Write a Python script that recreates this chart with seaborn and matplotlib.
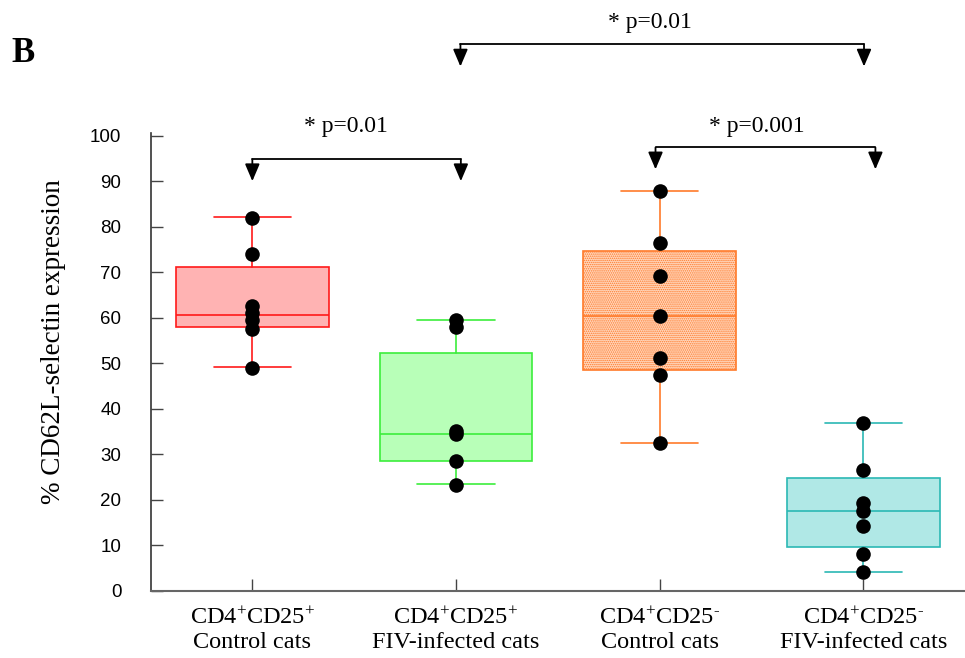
import numpy as np
import pandas as pd
import matplotlib
matplotlib.use("Agg")
import matplotlib.pyplot as plt
import seaborn as sns

# --- data ---
groups = ["CD4+CD25+ control", "CD4+CD25+ FIV", "CD4+CD25- control", "CD4+CD25- FIV"]
tick_labels = [
    r"CD4$^{+}$CD25$^{+}$" + "\nControl cats",
    r"CD4$^{+}$CD25$^{+}$" + "\nFIV-infected cats",
    r"CD4$^{+}$CD25$^{\text{-}}$" + "\nControl cats",
    r"CD4$^{+}$CD25$^{\text{-}}$" + "\nFIV-infected cats",
]
vals_pos_control = [82.0, 74.0, 62.5, 61.0, 59.5, 57.5, 49.0]
vals_pos_fiv = [59.5, 58.0, 35.0, 34.5, 28.5, 23.3]
vals_neg_control = [87.8, 76.5, 69.2, 60.4, 51.1, 47.5, 32.4]
vals_neg_fiv = [36.9, 26.5, 19.3, 17.6, 14.2, 8.0, 4.0]

# box summaries as drawn in the original (q1, median, q3, whisker low, whisker high)
q1 = [57.9, 28.4, 48.5, 9.5]
medians = [60.5, 34.5, 60.3, 17.5]
q3 = [71.2, 52.3, 74.7, 24.7]
whis_lo = [49.1, 23.4, 32.4, 4.0]
whis_hi = [82.2, 59.5, 87.8, 36.9]

p_texts = ["* p=0.01", "* p=0.01", "* p=0.001"]

edge_colors = ["#ff1a1a", "#3ced3c", "#ff7a2a", "#2bb8b4"]
face_colors = ["#ffb3b3", "#b8ffb8", "#ffd6bc", "#b0e8e6"]

all_vals = [vals_pos_control, vals_pos_fiv, vals_neg_control, vals_neg_fiv]
df = pd.DataFrame({
    "group": np.repeat(groups, [len(v) for v in all_vals]),
    "value": np.concatenate(all_vals),
})

sns.set_style("white")
plt.rcParams["font.family"] = ["Liberation Serif", "DejaVu Serif"]
plt.rcParams["mathtext.fontset"] = "custom"
plt.rcParams["mathtext.rm"] = "Liberation Serif"
plt.rcParams["mathtext.it"] = "Liberation Serif:italic"
plt.rcParams["mathtext.bf"] = "Liberation Serif:bold"
plt.rcParams["hatch.linewidth"] = 0.7
plt.rcParams["text.color"] = "black"
plt.rcParams["axes.labelcolor"] = "black"
plt.rcParams["xtick.color"] = "black"
plt.rcParams["ytick.color"] = "black"

fig = plt.figure(figsize=(9.65, 6.58), dpi=100)
ax = fig.add_axes([0.156, 0.1023, 0.844, 0.695])

# boxes
stats = []
for i in range(4):
    stats.append(dict(q1=q1[i], med=medians[i], q3=q3[i],
                      whislo=whis_lo[i], whishi=whis_hi[i], fliers=[]))
bp = ax.bxp(stats, positions=range(4), widths=0.75, capwidths=0.38,
            patch_artist=True, showfliers=False, manage_ticks=False)
for i in range(4):
    box = bp["boxes"][i]
    box.set_facecolor(face_colors[i])
    box.set_edgecolor(edge_colors[i])
    box.set_linewidth(1.2)
    if i == 2:
        box.set_hatch("........")
    bp["medians"][i].set_color(edge_colors[i])
    bp["medians"][i].set_linewidth(1.2)
    for ln in bp["whiskers"][2 * i:2 * i + 2] + bp["caps"][2 * i:2 * i + 2]:
        ln.set_color(edge_colors[i])
        ln.set_linewidth(1.2)

# points
sns.stripplot(data=df, x="group", y="value", order=groups, jitter=False,
              color="black", size=10.5, linewidth=0, zorder=5, ax=ax)

ax.set_xlim(-0.5, 3.5)
ax.set_ylim(0, 100.5)
ax.set_yticks(range(0, 101, 10))
ax.set_xticks(range(4))
ax.set_xticklabels(tick_labels, fontsize=17.5, linespacing=1.2)
for lab in ax.get_yticklabels():
    lab.set_family(["Liberation Sans", "DejaVu Sans"])
    lab.set_fontsize(13.5)
ax.tick_params(axis="y", left=True, direction="in", length=8.5, width=1,
               color="#444444", labelcolor="black", pad=21)
ax.tick_params(axis="x", bottom=True, direction="in", length=8.5, width=1,
               color="#444444", labelcolor="black", pad=12)
ax.set_xlabel("")
ax.set_ylabel("% CD62L-selectin expression", fontsize=19.5)
ax.yaxis.set_label_coords(-0.104, 0.545)
for s in ["top", "right"]:
    ax.spines[s].set_visible(False)
ax.spines["left"].set_color("#333333")
ax.spines["bottom"].set_color("#666666")
ax.spines["left"].set_linewidth(1.2)
ax.spines["bottom"].set_linewidth(1.5)

# significance brackets: (x left, x right, bar y, arrow tip y, text x, text y)
brackets = [
    (0.0, 1.024, 94.8, 90.0, 0.462, 100.9),
    (1.022, 3.004, 120.1, 115.2, 1.952, 123.7),
    (1.98, 3.06, 97.4, 92.6, 2.478, 100.9),
]
for (xl, xr, yb, yt, tx, ty), txt in zip(brackets, p_texts):
    ax.plot([xl, xr], [yb, yb], color="black", lw=1.3, clip_on=False)
    for xx in (xl, xr):
        ax.annotate("", xy=(xx, yt), xytext=(xx, yb), annotation_clip=False,
                    arrowprops=dict(arrowstyle="-|>,head_length=0.75,head_width=0.32",
                                    color="black", lw=1.3, shrinkA=0, shrinkB=0,
                                    mutation_scale=14))
    ax.text(tx, ty, txt, ha="center", va="baseline", fontsize=17, clip_on=False)

fig.text(11.7 / 965, 1 - 62.3 / 658, "B", fontsize=25, fontweight="bold",
         ha="left", va="baseline")

fig.savefig("out.png", dpi=100)
